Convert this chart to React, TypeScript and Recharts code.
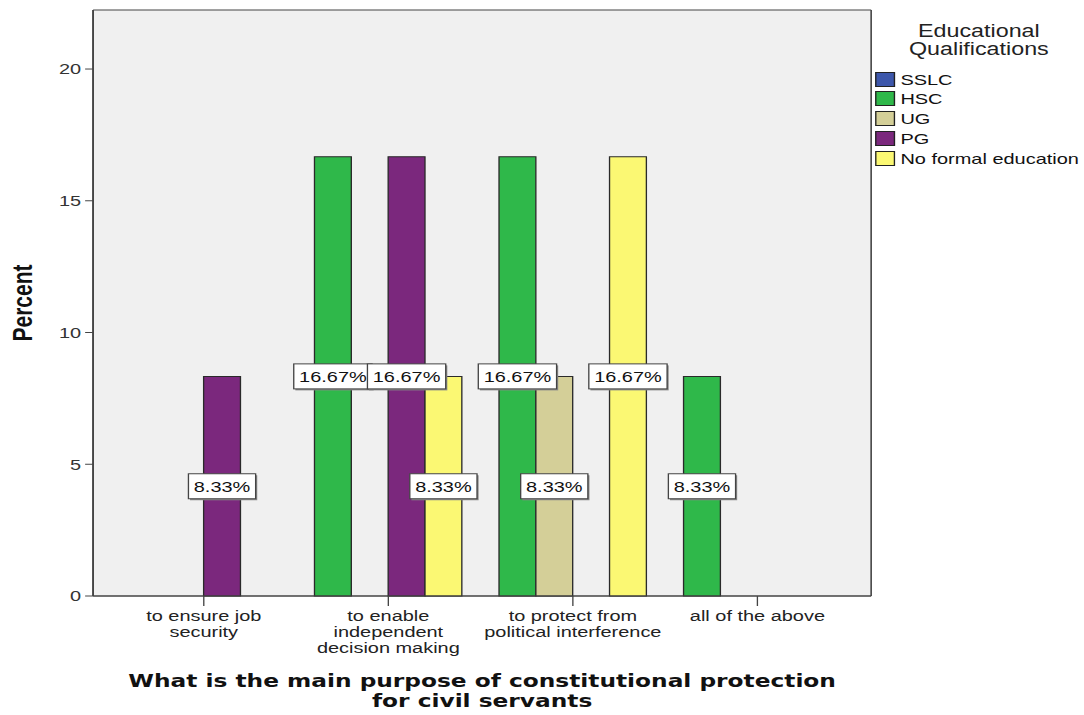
import React from "react";
import { BarChart, Bar, XAxis, YAxis, CartesianGrid, LabelList } from "recharts";

// categories and per-series percentages
const categories = [
  "to ensure job security",
  "to enable independent decision making",
  "to protect from political interference",
  "all of the above",
];
const categoryLines = [
  ["to ensure job", "security"],
  ["to enable", "independent", "decision making"],
  ["to protect from", "political interference"],
  ["all of the above"],
];
const sslc = [null, null, null, null];
const hsc = [null, 16.67, 16.67, 8.33];
const ug = [null, null, 8.33, null];
const pg = [8.33, 16.67, null, null];
const noFormal = [null, 8.33, 16.67, null];
const yTicks = [0, 5, 10, 15, 20];

const series = [
  { key: "sslc", name: "SSLC", color: "#3d57ab", values: sslc },
  { key: "hsc", name: "HSC", color: "#2fb84a", values: hsc },
  { key: "ug", name: "UG", color: "#d4cf98", values: ug },
  { key: "pg", name: "PG", color: "#7b287d", values: pg },
  { key: "noFormal", name: "No formal education", color: "#fbf873", values: noFormal },
];

const data = categories.map((cat, i) => {
  const row: Record<string, any> = { cat };
  series.forEach((s) => (row[s.key] = s.values[i]));
  return row;
});

// everything is laid out narrow and then stretched sideways
const STRETCH = 1.33;
const W = 815;
const H = 715;
const BAND_PAD_RIGHT = 30;
// just under a fifth of the band, otherwise recharts shrinks the bars by 10%
const BAR = 27.7;
const TICK_SHIFT = BAR / 2;
const FONT = "'Liberation Sans', Arial, sans-serif";

const charW: Record<string, number> = { ".": 0.278, "%": 0.889 };
const textWidth = (s: string, size: number) =>
  s.split("").reduce((w, c) => w + (charW[c] ?? 0.556), 0) * size;

const ValueBox = (props: any) => {
  const { x, y, width, height, value } = props;
  if (value == null) return null;
  const label = `${Number(value).toFixed(2)}%`;
  const cx = x + width / 2;
  const cy = y + height / 2;
  const bw = textWidth(label, 15) + 8;
  const bh = 25;
  return (
    <g>
      <rect x={cx - bw / 2 + 1.2} y={cy - bh / 2 + 1.5} width={bw} height={bh} fill="#8a8a8a" />
      <rect x={cx - bw / 2} y={cy - bh / 2} width={bw} height={bh} fill="#fff" stroke="#444" strokeWidth={1} />
      <text x={cx} y={cy + 5.5} textAnchor="middle" fontSize={15} fill="#111" fontFamily={FONT}>
        {label}
      </text>
    </g>
  );
};

const CategoryTick = (props: any) => {
  const { x, y, index, payload } = props;
  const lines = categoryLines[index] ?? [payload.value];
  const cx = x + TICK_SHIFT;
  return (
    <g>
      <line x1={cx} x2={cx} y1={y - 12} y2={y - 2} stroke="#444" />
      <text x={cx} y={y} textAnchor="middle" fontSize={15} fill="#222" fontFamily={FONT}>
        {lines.map((l: string, i: number) => (
          <tspan key={i} x={cx} dy={i === 0 ? 13 : 16}>
            {l}
          </tspan>
        ))}
      </text>
    </g>
  );
};

const PercentLabel = (props: any) => {
  const { viewBox } = props;
  const cx = viewBox.x + 16.5;
  const cy = viewBox.y + viewBox.height / 2;
  return (
    <text
      x={cx}
      y={cy}
      transform={`rotate(-90, ${cx}, ${cy})`}
      textAnchor="middle"
      dominantBaseline="central"
      fontSize={21}
      fontWeight="bold"
      fill="#111"
      fontFamily={FONT}
    >
      Percent
    </text>
  );
};

export default function App() {
  return (
    <div
      style={{
        position: "absolute",
        left: 0,
        top: 0,
        width: W,
        height: H,
        transform: `scaleX(${STRETCH})`,
        transformOrigin: "0 0",
        background: "#fff",
        fontFamily: FONT,
      }}
    >
      <BarChart
        width={W}
        height={H}
        data={data}
        margin={{ top: 10, right: 160, bottom: 59, left: 0 }}
        barCategoryGap={0}
        barGap={0}
        barSize={BAR}
      >
        <CartesianGrid
          fill="#f0f0f0"
          stroke="#444"
          strokeWidth={1.2}
          horizontalCoordinatesGenerator={({ offset }: any) =>
            offset ? [offset.top, offset.top + offset.height] : []
          }
          verticalCoordinatesGenerator={({ offset }: any) =>
            offset ? [offset.left, offset.left + offset.width] : []
          }
        />
        <XAxis
          dataKey="cat"
          height={60}
          padding={{ left: 0, right: BAND_PAD_RIGHT }}
          axisLine={{ stroke: "#444", strokeWidth: 1.2 }}
          tickLine={false}
          tickSize={10}
          tickMargin={2}
          interval={0}
          tick={<CategoryTick />}
        />
        <YAxis
          width={70}
          domain={[0, 22.24]}
          ticks={yTicks}
          axisLine={{ stroke: "#444", strokeWidth: 1.2 }}
          tickLine={{ stroke: "#444" }}
          tickSize={6}
          tickMargin={3}
          tick={{ fontSize: 15, fill: "#333", fontFamily: FONT }}
          label={<PercentLabel />}
        />
        {series.map((s) => (
          <Bar
            key={s.key}
            dataKey={s.key}
            name={s.name}
            fill={s.color}
            stroke="#2a2a2a"
            strokeWidth={1}
            isAnimationActive={false}
          >
            <LabelList dataKey={s.key} content={<ValueBox />} />
          </Bar>
        ))}
      </BarChart>

      {/* legend */}
      <div
        style={{
          position: "absolute",
          left: 676,
          top: 22,
          width: 120,
          textAlign: "center",
          fontSize: 17.5,
          lineHeight: "18px",
          color: "#222",
        }}
      >
        Educational
        <br />
        Qualifications
      </div>
      {series.map((s, i) => (
        <div
          key={s.key}
          style={{
            position: "absolute",
            left: 658,
            top: 71 + i * 19.75,
            height: 16,
            display: "flex",
            alignItems: "center",
            whiteSpace: "nowrap",
            fontSize: 15,
            color: "#111",
          }}
        >
          <span
            style={{
              display: "inline-block",
              width: 13,
              height: 13,
              background: s.color,
              border: "1px solid #222",
              marginRight: 4,
            }}
          />
          {s.name}
        </div>
      ))}

      {/* axis title */}
      <div
        style={{
          position: "absolute",
          left: 0,
          top: 672,
          width: 725,
          textAlign: "center",
          fontFamily: "'DejaVu Sans', Verdana, sans-serif",
          fontWeight: "bold",
          fontSize: 17.5,
          lineHeight: "19.5px",
          color: "#111",
        }}
      >
        What is the main purpose of constitutional protection
        <br />
        for civil servants
      </div>
    </div>
  );
}
